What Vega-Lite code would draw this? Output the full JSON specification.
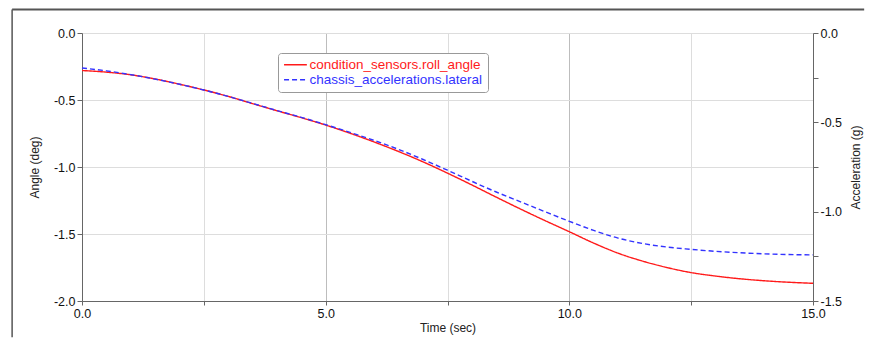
{
  "$schema": "https://vega.github.io/schema/vega-lite/v6.json",
  "width": 731,
  "height": 268,
  "autosize": {"type": "none"},
  "padding": {"left": 82, "top": 33, "right": 57, "bottom": 39},
  "background": "white",
  "config": {
    "font": "Liberation Sans",
    "view": {"stroke": null},
    "axis": {
      "labelFont": "Liberation Sans",
      "titleFont": "Liberation Sans",
      "labelFontSize": 12.5,
      "titleFontSize": 12,
      "titleFontWeight": "normal",
      "labelColor": "#111111",
      "titleColor": "#222222",
      "domainColor": "#666666",
      "tickColor": "#666666",
      "labelOverlap": false,
      "labelFlush": false
    },
    "legend": {"labelFont": "Liberation Sans"}
  },
  "datasets": {
    "sig": [
      {"t": 0, "series": "condition_sensors.roll_angle", "value": -0.280},
      {"t": 0.5, "series": "condition_sensors.roll_angle", "value": -0.292},
      {"t": 1, "series": "condition_sensors.roll_angle", "value": -0.312},
      {"t": 1.5, "series": "condition_sensors.roll_angle", "value": -0.343},
      {"t": 2, "series": "condition_sensors.roll_angle", "value": -0.382},
      {"t": 2.5, "series": "condition_sensors.roll_angle", "value": -0.425},
      {"t": 3, "series": "condition_sensors.roll_angle", "value": -0.473},
      {"t": 3.5, "series": "condition_sensors.roll_angle", "value": -0.527},
      {"t": 4, "series": "condition_sensors.roll_angle", "value": -0.580},
      {"t": 4.5, "series": "condition_sensors.roll_angle", "value": -0.632},
      {"t": 5, "series": "condition_sensors.roll_angle", "value": -0.687},
      {"t": 5.5, "series": "condition_sensors.roll_angle", "value": -0.748},
      {"t": 6, "series": "condition_sensors.roll_angle", "value": -0.814},
      {"t": 6.5, "series": "condition_sensors.roll_angle", "value": -0.885},
      {"t": 7, "series": "condition_sensors.roll_angle", "value": -0.962},
      {"t": 7.5, "series": "condition_sensors.roll_angle", "value": -1.046},
      {"t": 8, "series": "condition_sensors.roll_angle", "value": -1.134},
      {"t": 8.5, "series": "condition_sensors.roll_angle", "value": -1.225},
      {"t": 9, "series": "condition_sensors.roll_angle", "value": -1.314},
      {"t": 9.5, "series": "condition_sensors.roll_angle", "value": -1.400},
      {"t": 10, "series": "condition_sensors.roll_angle", "value": -1.483},
      {"t": 10.5, "series": "condition_sensors.roll_angle", "value": -1.568},
      {"t": 11, "series": "condition_sensors.roll_angle", "value": -1.643},
      {"t": 11.5, "series": "condition_sensors.roll_angle", "value": -1.702},
      {"t": 12, "series": "condition_sensors.roll_angle", "value": -1.750},
      {"t": 12.5, "series": "condition_sensors.roll_angle", "value": -1.788},
      {"t": 13, "series": "condition_sensors.roll_angle", "value": -1.814},
      {"t": 13.5, "series": "condition_sensors.roll_angle", "value": -1.834},
      {"t": 14, "series": "condition_sensors.roll_angle", "value": -1.849},
      {"t": 14.5, "series": "condition_sensors.roll_angle", "value": -1.860},
      {"t": 15, "series": "condition_sensors.roll_angle", "value": -1.868},
      {"t": 0, "series": "chassis_accelerations.lateral", "value": -0.196},
      {"t": 0.5, "series": "chassis_accelerations.lateral", "value": -0.212},
      {"t": 1, "series": "chassis_accelerations.lateral", "value": -0.233},
      {"t": 1.5, "series": "chassis_accelerations.lateral", "value": -0.258},
      {"t": 2, "series": "chassis_accelerations.lateral", "value": -0.287},
      {"t": 2.5, "series": "chassis_accelerations.lateral", "value": -0.319},
      {"t": 3, "series": "chassis_accelerations.lateral", "value": -0.355},
      {"t": 3.5, "series": "chassis_accelerations.lateral", "value": -0.394},
      {"t": 4, "series": "chassis_accelerations.lateral", "value": -0.434},
      {"t": 4.5, "series": "chassis_accelerations.lateral", "value": -0.472},
      {"t": 5, "series": "chassis_accelerations.lateral", "value": -0.513},
      {"t": 5.5, "series": "chassis_accelerations.lateral", "value": -0.556},
      {"t": 6, "series": "chassis_accelerations.lateral", "value": -0.602},
      {"t": 6.5, "series": "chassis_accelerations.lateral", "value": -0.652},
      {"t": 7, "series": "chassis_accelerations.lateral", "value": -0.708},
      {"t": 7.5, "series": "chassis_accelerations.lateral", "value": -0.768},
      {"t": 8, "series": "chassis_accelerations.lateral", "value": -0.830},
      {"t": 8.5, "series": "chassis_accelerations.lateral", "value": -0.890},
      {"t": 9, "series": "chassis_accelerations.lateral", "value": -0.945},
      {"t": 9.5, "series": "chassis_accelerations.lateral", "value": -1.000},
      {"t": 10, "series": "chassis_accelerations.lateral", "value": -1.054},
      {"t": 10.5, "series": "chassis_accelerations.lateral", "value": -1.105},
      {"t": 11, "series": "chassis_accelerations.lateral", "value": -1.148},
      {"t": 11.5, "series": "chassis_accelerations.lateral", "value": -1.178},
      {"t": 12, "series": "chassis_accelerations.lateral", "value": -1.198},
      {"t": 12.5, "series": "chassis_accelerations.lateral", "value": -1.211},
      {"t": 13, "series": "chassis_accelerations.lateral", "value": -1.222},
      {"t": 13.5, "series": "chassis_accelerations.lateral", "value": -1.230},
      {"t": 14, "series": "chassis_accelerations.lateral", "value": -1.236},
      {"t": 14.5, "series": "chassis_accelerations.lateral", "value": -1.240},
      {"t": 15, "series": "chassis_accelerations.lateral", "value": -1.242}
    ]
  },
  "layer": [
    {
      "layer": [
        {
          "data": {"name": "sig"},
          "transform": [{"filter": "datum.series === 'condition_sensors.roll_angle'"}],
          "mark": {"type": "line", "strokeWidth": 1.4, "interpolate": "monotone"},
          "encoding": {
            "x": {
              "field": "t", "type": "quantitative",
              "scale": {"domain": [0, 15], "nice": false, "zero": false},
              "axis": {
                "title": "Time (sec)",
                "values": [0, 2.5, 5, 7.5, 10, 12.5, 15],
                "labelExpr": "datum.value % 5 === 0 ? replace(format(datum.value, '.1f'), '\u2212', '-') : ''",
                "grid": true,
                "gridColor": {"condition": {"test": "datum.value % 5 === 0", "value": "#bdbdbd"}, "value": "#dddddd"},
                "tickSize": 4,
                "labelPadding": 2,
                "titlePadding": 3
              }
            },
            "y": {
              "field": "value", "type": "quantitative",
              "scale": {"domain": [-2, 0], "nice": false, "zero": false},
              "axis": {
                "title": "Angle (deg)",
                "values": [0, -0.25, -0.5, -0.75, -1, -1.25, -1.5, -1.75, -2],
                "labelExpr": "datum.value % 0.5 === 0 ? replace(format(datum.value, '.1f'), '\u2212', '-') : ''",
                "grid": true,
                "gridColor": "#dddddd",
                "tickSize": 5,
                "labelPadding": 2,
                "titlePadding": 12
              }
            },
            "color": {
              "field": "series", "type": "nominal",
              "scale": {"domain": ["condition_sensors.roll_angle", "chassis_accelerations.lateral"], "range": ["#ff1a1a", "#3333ff"]},
              "legend": {
                "title": null,
                "orient": "none",
                "legendX": 196,
                "legendY": 20,
                "symbolType": "M-1,0H3",
                "symbolSize": 130,
                "symbolStrokeWidth": 1.5,
                "labelFontSize": 13.5,
                "labelOffset": 13,
                "labelLimit": 400,
                "rowPadding": 0,
                "padding": 5,
                "strokeColor": "#999999",
                "fillColor": "white",
                "cornerRadius": 3,
                "encode": {"labels": {"update": {"fill": {"signal": "datum.value === 'condition_sensors.roll_angle' ? '#ff1a1a' : '#3333ff'"}}}}
              }
            },
            "strokeDash": {
              "field": "series", "type": "nominal",
              "scale": {"domain": ["condition_sensors.roll_angle", "chassis_accelerations.lateral"], "range": [[1, 0], [5, 3]]}
            }
          }
        },
        {
          "data": {"values": [{}]},
          "mark": {"type": "rule", "color": "#555555", "strokeWidth": 2, "clip": false},
          "encoding": {
            "x": {"datum": -1.434},
            "x2": {"datum": 16.05},
            "y": {"datum": 0.1754}
          }
        },
        {
          "data": {"values": [{}]},
          "mark": {"type": "rule", "color": "#555555", "strokeWidth": 1.5, "clip": false},
          "encoding": {
            "x": {"datum": -1.434},
            "y": {"datum": 0.1754},
            "y2": {"datum": -2.27}
          }
        }
      ]
    },
    {
      "data": {"name": "sig"},
      "transform": [{"filter": "datum.series === 'chassis_accelerations.lateral'"}],
      "mark": {"type": "line", "strokeWidth": 1.4, "interpolate": "monotone"},
      "encoding": {
        "x": {"field": "t", "type": "quantitative"},
        "y": {
          "field": "value", "type": "quantitative",
          "scale": {"domain": [-1.5, 0], "nice": false, "zero": false},
          "axis": {
            "orient": "right",
            "title": "Acceleration (g)",
            "titleAngle": 270,
            "values": [0, -0.25, -0.5, -0.75, -1, -1.25, -1.5],
            "labelExpr": "datum.value % 0.5 === 0 ? replace(format(datum.value, '.1f'), '\u2212', '-') : ''",
            "grid": false,
            "tickSize": 5,
            "labelPadding": 2,
            "titlePadding": 21
          }
        },
        "color": {"field": "series", "type": "nominal"},
        "strokeDash": {"field": "series", "type": "nominal"}
      }
    }
  ],
  "resolve": {"scale": {"y": "independent"}}
}
